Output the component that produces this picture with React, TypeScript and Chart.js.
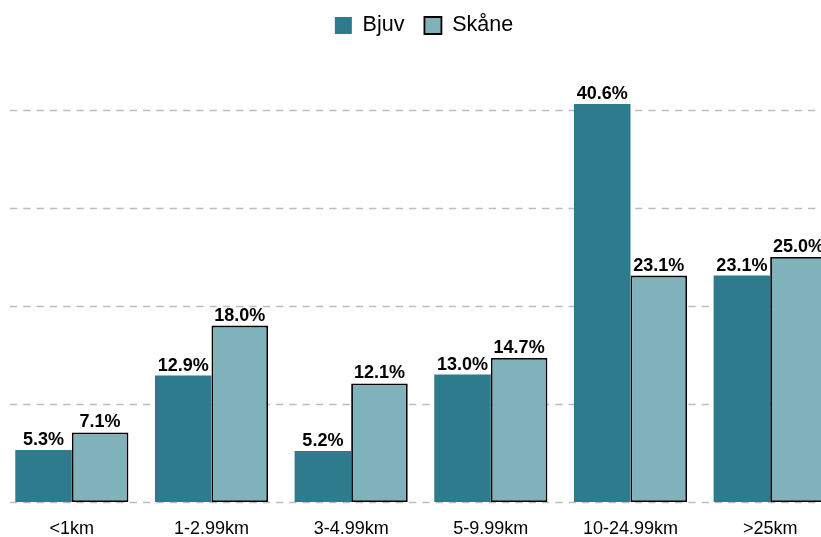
import React, { useEffect, useRef } from "react";
import { Chart, registerables } from "chart.js";

Chart.register(...registerables);

const categories = ["<1km", "1-2.99km", "3-4.99km", "5-9.99km", "10-24.99km", ">25km"];
const bjuvValues = [5.3, 12.9, 5.2, 13.0, 40.6, 23.1];
const skaneValues = [7.1, 18.0, 12.1, 14.7, 23.1, 25.0];
const gridValues = [0, 10, 20, 30, 40];

const FONT = "'Liberation Sans', Arial, Helvetica, sans-serif";

const gridPlugin = {
  id: "dashedGrid",
  beforeDatasetsDraw(chart: any) {
    const { ctx } = chart;
    const y = chart.scales.y;
    ctx.save();
    ctx.strokeStyle = "#bdbdbd";
    ctx.lineWidth = 1.3;
    ctx.setLineDash([7.3, 6]);
    for (const v of gridValues) {
      const py = Math.round(y.getPixelForValue(v)) + 0.5;
      ctx.beginPath();
      ctx.moveTo(10, py);
      ctx.lineTo(chart.width, py);
      ctx.stroke();
    }
    ctx.restore();
  },
};

const labelPlugin = {
  id: "valueLabels",
  afterDatasetsDraw(chart: any) {
    const { ctx } = chart;
    ctx.save();
    ctx.font = `bold 18px ${FONT}`;
    ctx.fillStyle = "#000";
    ctx.textAlign = "center";
    ctx.textBaseline = "bottom";
    chart.data.datasets.forEach((ds: any, di: number) => {
      const meta = chart.getDatasetMeta(di);
      meta.data.forEach((bar: any, i: number) => {
        const v = ds.data[i];
        ctx.fillText(v.toFixed(1) + "%", bar.x, bar.y - 1);
      });
    });
    ctx.restore();
  },
};

const legendShiftPlugin = {
  id: "legendShift",
  afterLayout(chart: any) {
    if (chart.legend) {
      chart.legend.left += 3;
      chart.legend.right += 3;
    }
  },
};

export default function App() {
  const ref = useRef<HTMLCanvasElement>(null);
  useEffect(() => {
    if (!ref.current) return;
    Chart.defaults.font.family = FONT;
    Chart.defaults.color = "#000";
    const chart = new Chart(ref.current, {
      type: "bar",
      data: {
        labels: categories,
        datasets: [
          {
            label: "Bjuv",
            data: bjuvValues,
            backgroundColor: "#2f7b8e",
            borderColor: "#2f7b8e",
            borderWidth: 0,
          },
          {
            label: "Skåne",
            data: skaneValues,
            backgroundColor: "#7fb2bb",
            borderColor: "#000000",
            borderWidth: 1.8,
            borderSkipped: false,
          },
        ],
      },
      options: {
        animation: false,
        responsive: false,
        devicePixelRatio: 1,
        layout: { padding: { top: -5.25, left: 2, right: 2, bottom: 0 } },
        datasets: { bar: { categoryPercentage: 0.81, barPercentage: 1 } },
        plugins: {
          legend: {
            position: "top",
            labels: {
              boxWidth: 17,
              boxHeight: 17,
              padding: 20,
              color: "#000",
              font: { size: 21.5, family: FONT },
            },
          },
          tooltip: { enabled: false },
        },
        scales: {
          x: {
            grid: { display: false, drawTicks: false },
            border: { display: false },
            ticks: { color: "#000", font: { size: 18, family: FONT }, padding: 16 },
            afterFit(scale: any) {
              scale.height = 35;
            },
          },
          y: {
            display: false,
            min: 0,
            max: 46.5,
          },
        },
      },
      plugins: [gridPlugin, labelPlugin, legendShiftPlugin],
    });
    return () => chart.destroy();
  }, []);
  return (
    <div
      style={{
        position: "fixed",
        left: 0,
        top: 0,
        width: 821,
        height: 537,
        overflow: "hidden",
        background: "#fff",
      }}
    >
      <canvas ref={ref} width={842} height={537} style={{ display: "block" }} />
    </div>
  );
}
